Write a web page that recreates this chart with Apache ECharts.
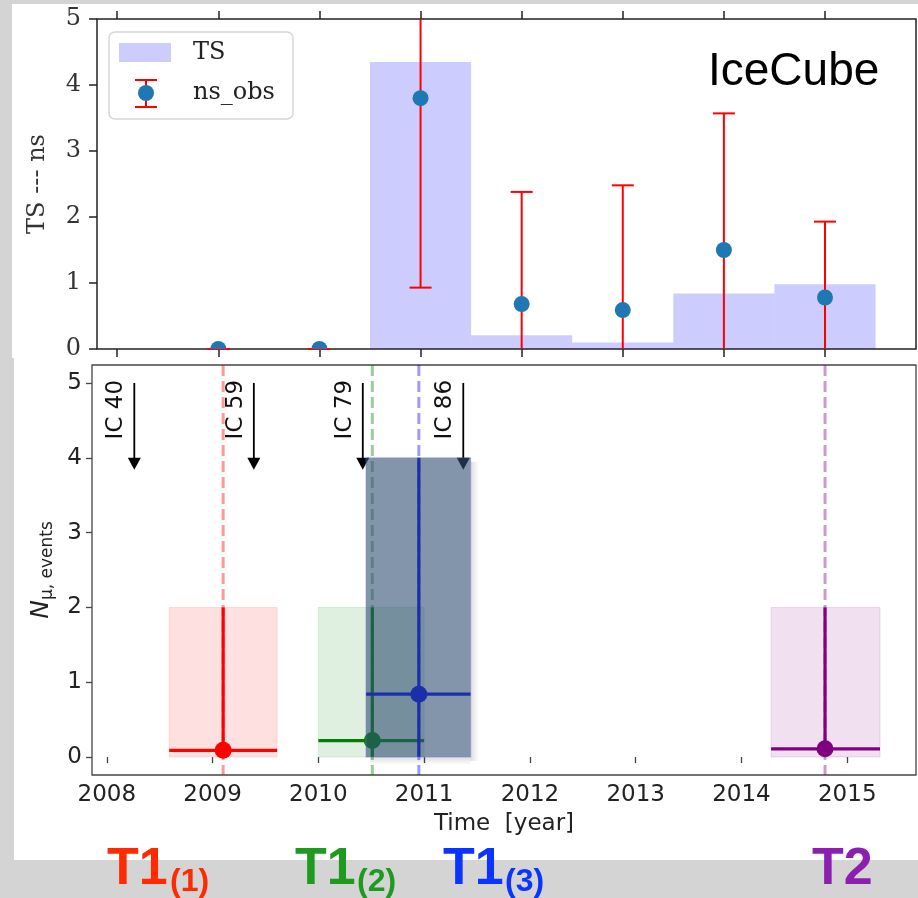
<!DOCTYPE html>
<html><head><meta charset="utf-8">
<script src="https://cdn.jsdelivr.net/npm/echarts@6/dist/echarts.min.js"></script>
<style>html,body{margin:0;padding:0;background:#d4d4d4}#c{width:918px;height:898px}</style>
</head><body><div id="c"></div>
<script>
// ---------------- Top panel (IceCube) data ----------------
const tsYears  = [2011, 2012, 2013, 2014, 2015];
const tsValues = [4.35, 0.21, 0.10, 0.84, 0.98];
const nsYears  = [2009, 2010, 2011, 2012, 2013, 2014, 2015];
const nsObs    = [0, 0, 3.80, 0.68, 0.59, 1.50, 0.78];
const nsLow    = [0, 0, 0.93, -1.02, -1.30, -0.57, -0.37];
const nsHigh   = [0, 0, 6.67, 2.38, 2.48, 3.57, 1.93];
const topXTicks = [2008, 2009, 2010, 2011, 2012, 2013, 2014, 2015];
const topYMin = 0, topYMax = 5;

// ---------------- Bottom panel data ----------------
const flareNames = ['T1(1)', 'T1(2)', 'T1(3)', 'T2'];
const flareTime  = [2009.10, 2010.51, 2010.95, 2014.79];
const flareStart = [2008.59, 2010.00, 2010.45, 2014.28];
const flareEnd   = [2009.61, 2011.00, 2011.44, 2015.31];
const flareN     = [0.09, 0.22, 0.84, 0.11];
const flareUpper = [2, 2, 4, 2];
const icNames = ['IC 40', 'IC 59', 'IC 79', 'IC 86'];
const icTime  = [2008.26, 2009.39, 2010.42, 2011.37];
const icFrom  = [5.0, 5.0, 5.0, 5.0];
const icTo    = [3.84, 3.84, 3.84, 3.84];
const botXTicks = [2008, 2009, 2010, 2011, 2012, 2013, 2014, 2015];
const botYTicks = [0, 1, 2, 3, 4, 5];
const botYMin = -0.24, botYMax = 5.24;

// styles
const flareColor = ['#ff0000', '#008000', '#0000ff', '#800080'];
const flareDash  = ['rgba(255,0,0,0.4)', 'rgba(0,128,0,0.4)', 'rgba(0,0,255,0.4)', 'rgba(128,0,128,0.4)'];
const flareFill  = ['rgba(255,0,0,0.12)', 'rgba(0,128,0,0.12)', 'rgba(47,79,115,0.6)', 'rgba(128,0,128,0.12)'];
const labelColor = ['#ff2a00', '#1e9b1e', '#0a34ff', '#8c1fb0'];

const chart = echarts.init(document.getElementById('c'), null, {renderer: 'canvas'});

const serif = 'DejaVu Serif';
const sans = 'DejaVu Sans';

function clampTop(v) { return Math.max(topYMin, Math.min(topYMax, v)); }

const option = {
  backgroundColor: '#d4d4d4',
  animation: false,
  grid: [
    {left: 97, top: 19, width: 819, height: 330, show: true, borderColor: '#222', borderWidth: 1.5, backgroundColor: '#fff'},
    {left: 92, top: 365, width: 824, height: 410, show: true, borderColor: '#444', borderWidth: 1.3, backgroundColor: '#fff'}
  ],
  xAxis: [
    {gridIndex: 0, type: 'value', min: 2007.8, max: 2015.9, position: 'bottom',
     axisLine: {show: false}, splitLine: {show: false},
     axisTick: {show: true, customValues: topXTicks, length: 8, lineStyle: {color: '#222', width: 1.5}},
     axisLabel: {show: false}},
    {gridIndex: 0, type: 'value', min: 2007.8, max: 2015.9, position: 'top',
     axisLine: {show: false}, splitLine: {show: false},
     axisTick: {show: true, customValues: topXTicks, length: 8, lineStyle: {color: '#222', width: 1.5}},
     axisLabel: {show: false}},
    {gridIndex: 1, type: 'value', min: 2007.86, max: 2015.65, position: 'bottom',
     axisLine: {show: false}, splitLine: {show: false},
     axisTick: {show: true, customValues: botXTicks, length: 6, lineStyle: {color: '#444', width: 1.3}},
     axisLabel: {customValues: botXTicks, formatter: v => String(Math.round(v)),
                 fontFamily: sans, fontSize: 23, lineHeight: 23, color: '#222', margin: 9},
     name: 'Time  [year]', nameLocation: 'middle', nameGap: 38,
     nameTextStyle: {fontFamily: sans, fontSize: 23, lineHeight: 23, color: '#222'}}
  ],
  yAxis: [
    {gridIndex: 0, type: 'value', min: topYMin, max: topYMax, interval: 1,
     axisLine: {show: false}, splitLine: {show: false},
     axisTick: {show: true, length: 8, lineStyle: {color: '#222', width: 1.5}},
     axisLabel: {fontFamily: serif, fontSize: 24, color: '#333', margin: 16},
     name: 'TS --- ns', nameLocation: 'middle', nameRotate: 90, nameGap: 47,
     nameTextStyle: {fontFamily: serif, fontSize: 24, color: '#333'}},
    {gridIndex: 1, type: 'value', min: botYMin, max: botYMax,
     axisLine: {show: false}, splitLine: {show: false},
     axisTick: {show: true, customValues: botYTicks, length: 6, lineStyle: {color: '#444', width: 1.3}},
     axisLabel: {customValues: botYTicks, formatter: v => String(Math.round(v)),
                 fontFamily: sans, fontSize: 23, color: '#222', margin: 10},
     name: '{n|N}{s|μ, events}', nameLocation: 'middle', nameRotate: 90, nameGap: 24,
     nameTextStyle: {color: '#222', rich: {
       n: {fontFamily: sans, fontStyle: 'italic', fontSize: 25, lineHeight: 24, verticalAlign: 'top', color: '#222'},
       s: {fontFamily: sans, fontSize: 17, lineHeight: 38, color: '#222'}
     }}}
  ],
  graphic: {elements: [
    {type: 'rect', z: -100, silent: true, shape: {x: 12, y: 4, width: 906, height: 354}, style: {fill: '#fff'}},
    {type: 'rect', z: -100, silent: true, shape: {x: 14, y: 358, width: 904, height: 502}, style: {fill: '#fff'}},
    // legend of top panel
    {type: 'rect', z: 100, shape: {x: 109, y: 32, width: 184, height: 87, r: 6}, style: {fill: 'rgba(255,255,255,0.85)', stroke: '#d6d6d6', lineWidth: 1.5}},
    {type: 'rect', z: 101, shape: {x: 119, y: 43, width: 52, height: 19}, style: {fill: 'rgba(0,0,255,0.2)'}},
    {type: 'text', z: 101, x: 193, y: 53, style: {text: 'TS', font: '24px "DejaVu Serif"', fill: '#222', verticalAlign: 'middle'}},
    {type: 'line', z: 101, shape: {x1: 146, y1: 80, x2: 146, y2: 107}, style: {stroke: '#ff0000', lineWidth: 2}},
    {type: 'line', z: 101, shape: {x1: 135, y1: 80, x2: 157, y2: 80}, style: {stroke: '#ff0000', lineWidth: 2}},
    {type: 'line', z: 101, shape: {x1: 135, y1: 107, x2: 157, y2: 107}, style: {stroke: '#ff0000', lineWidth: 2}},
    {type: 'circle', z: 102, shape: {cx: 146, cy: 93, r: 8}, style: {fill: '#1f77b4'}},
    {type: 'text', z: 101, x: 193, y: 93, style: {text: 'ns_obs', font: '24px "DejaVu Serif"', fill: '#222', verticalAlign: 'middle'}},
    {type: 'text', z: 101, x: 708, y: 72, style: {text: 'IceCube', font: '46px "Liberation Sans"', fill: '#000', verticalAlign: 'middle'}},
    // flare labels under the chart
    {type: 'text', z: 101, x: 107, y: 870, style: {text: 'T1', font: 'bold 52px "Liberation Sans"', fill: labelColor[0], verticalAlign: 'middle'}},
    {type: 'text', z: 101, x: 170, y: 882, style: {text: '(1)', font: 'bold 32px "Liberation Sans"', fill: labelColor[0], verticalAlign: 'middle'}},
    {type: 'text', z: 101, x: 295, y: 870, style: {text: 'T1', font: 'bold 52px "Liberation Sans"', fill: labelColor[1], verticalAlign: 'middle'}},
    {type: 'text', z: 101, x: 357, y: 882, style: {text: '(2)', font: 'bold 32px "Liberation Sans"', fill: labelColor[1], verticalAlign: 'middle'}},
    {type: 'text', z: 101, x: 443, y: 870, style: {text: 'T1', font: 'bold 52px "Liberation Sans"', fill: labelColor[2], verticalAlign: 'middle'}},
    {type: 'text', z: 101, x: 505, y: 882, style: {text: '(3)', font: 'bold 32px "Liberation Sans"', fill: labelColor[2], verticalAlign: 'middle'}},
    {type: 'text', z: 101, x: 812, y: 870, style: {text: 'T2', font: 'bold 52px "Liberation Sans"', fill: labelColor[3], verticalAlign: 'middle'}}
  ]},
  series: [
    // ---- top: TS histogram bars ----
    {type: 'custom', name: 'TS', xAxisIndex: 0, yAxisIndex: 0, z: 1,
     data: tsYears.map((y, i) => [y, tsValues[i]]),
     renderItem: (params, api) => {
       const x = api.value(0), v = api.value(1);
       const p0 = api.coord([x - 0.5, v]), p1 = api.coord([x + 0.5, 0]);
       return {type: 'rect', shape: {x: p0[0], y: p0[1], width: p1[0] - p0[0], height: p1[1] - p0[1]},
               style: {fill: 'rgba(0,0,255,0.2)'}};
     }},
    // ---- top: error bars ----
    {type: 'custom', xAxisIndex: 0, yAxisIndex: 0, z: 3,
     data: nsYears.map((y, i) => [y, nsLow[i], nsHigh[i]]),
     renderItem: (params, api) => {
       const x = api.value(0), lo = api.value(1), hi = api.value(2);
       const a = api.coord([x, clampTop(lo)]), b = api.coord([x, clampTop(hi)]);
       const st = {stroke: '#ff0000', lineWidth: 2};
       const ch = [{type: 'line', shape: {x1: a[0], y1: a[1], x2: b[0], y2: b[1]}, style: st}];
       if (lo >= topYMin) ch.push({type: 'line', shape: {x1: a[0] - 11, y1: a[1], x2: a[0] + 11, y2: a[1]}, style: st});
       if (hi <= topYMax) ch.push({type: 'line', shape: {x1: b[0] - 11, y1: b[1], x2: b[0] + 11, y2: b[1]}, style: st});
       const cs = params.coordSys;
       return {type: 'group', children: ch, clipPath: {type: 'rect', shape: {x: cs.x, y: cs.y - 1, width: cs.width, height: cs.height + 2}}};
     }},
    // ---- top: ns_obs points ----
    {type: 'custom', name: 'ns_obs', xAxisIndex: 0, yAxisIndex: 0, z: 4,
     data: nsYears.map((y, i) => [y, nsObs[i]]),
     renderItem: (params, api) => {
       const p = api.coord([api.value(0), api.value(1)]);
       const cs = params.coordSys;
       return {type: 'circle', shape: {cx: p[0], cy: p[1], r: 8}, style: {fill: '#1f77b4'},
               clipPath: {type: 'rect', shape: {x: cs.x, y: cs.y, width: cs.width, height: cs.height}}};
     }},
    // ---- bottom: light flare boxes ----
    {type: 'custom', xAxisIndex: 2, yAxisIndex: 1, z: 1,
     data: flareTime.map((t, i) => [flareStart[i], flareEnd[i], flareUpper[i]]),
     renderItem: (params, api) => {
       const i = params.dataIndex;
       if (i === 2) return null;
       const p0 = api.coord([api.value(0), api.value(2)]), p1 = api.coord([api.value(1), 0]);
       return {type: 'rect', shape: {x: p0[0], y: p0[1], width: p1[0] - p0[0], height: p1[1] - p0[1]},
               style: {fill: flareFill[i], stroke: flareFill[i], lineWidth: 1}};
     }},
    // ---- bottom: dashed flare time lines ----
    {type: 'custom', xAxisIndex: 2, yAxisIndex: 1, z: 2,
     data: flareTime.map(t => [t]),
     renderItem: (params, api) => {
       const i = params.dataIndex;
       const a = api.coord([api.value(0), botYMax]), b = api.coord([api.value(0), botYMin]);
       return {type: 'line', shape: {x1: a[0], y1: a[1], x2: b[0], y2: b[1]},
               style: {stroke: flareDash[i], lineWidth: 3, lineDash: [11, 5]}};
     }},
    // ---- bottom: error bars ----
    {type: 'custom', xAxisIndex: 2, yAxisIndex: 1, z: 3,
     data: flareTime.map((t, i) => [t, flareN[i], flareStart[i], flareEnd[i], flareUpper[i]]),
     renderItem: (params, api) => {
       const i = params.dataIndex;
       const t = api.value(0), n = api.value(1);
       const h0 = api.coord([api.value(2), n]), h1 = api.coord([api.value(3), n]);
       const v0 = api.coord([t, 0]), v1 = api.coord([t, api.value(4)]);
       const st = {stroke: flareColor[i], lineWidth: 3.2};
       return {type: 'group', children: [
         {type: 'line', shape: {x1: h0[0], y1: h0[1], x2: h1[0], y2: h1[1]}, style: st},
         {type: 'line', shape: {x1: v0[0], y1: v0[1], x2: v1[0], y2: v1[1]}, style: st}
       ]};
     }},
    // ---- bottom: points ----
    {type: 'scatter', xAxisIndex: 2, yAxisIndex: 1, z: 4, symbolSize: 17,
     data: flareTime.map((t, i) => ({name: flareNames[i], value: [t, flareN[i]], itemStyle: {color: flareColor[i], opacity: 1}}))},
    // ---- bottom: IceCube configuration arrows ----
    {type: 'custom', xAxisIndex: 2, yAxisIndex: 1, z: 5,
     data: icTime.map((t, i) => [t, icFrom[i], icTo[i]]),
     renderItem: (params, api) => {
       const i = params.dataIndex;
       const a = api.coord([api.value(0), api.value(1)]), b = api.coord([api.value(0), api.value(2)]);
       return {type: 'group', children: [
         {type: 'line', shape: {x1: a[0], y1: a[1], x2: b[0], y2: b[1] - 11}, style: {stroke: '#000', lineWidth: 1.8}},
         {type: 'polygon', shape: {points: [[b[0] - 6.5, b[1] - 12], [b[0] + 6.5, b[1] - 12], [b[0], b[1]]]}, style: {fill: '#000'}},
         {type: 'text', x: a[0] - 18, y: a[1] - 3, rotation: Math.PI / 2,
          style: {text: icNames[i], font: '23px "DejaVu Sans"', fill: '#111', align: 'right', verticalAlign: 'middle'}}
       ]};
     }},
    // ---- bottom: T1(3) dark box on top, with a soft shadow ----
    {type: 'custom', xAxisIndex: 2, yAxisIndex: 1, z: 6,
     data: flareTime.map((t, i) => [flareStart[i], flareEnd[i], flareUpper[i]]),
     renderItem: (params, api) => {
       const i = params.dataIndex;
       if (i !== 2) return null;
       const p0 = api.coord([api.value(0), api.value(2)]), p1 = api.coord([api.value(1), 0]);
       const w = p1[0] - p0[0], h = p1[1] - p0[1];
       const sh = 8;
       return {type: 'group', children: [
         {type: 'rect', shape: {x: p1[0], y: p0[1] + 4, width: sh, height: h},
          style: {fill: {type: 'linear', x: 0, y: 0, x2: 1, y2: 0, colorStops: [{offset: 0, color: 'rgba(0,0,0,0.13)'}, {offset: 1, color: 'rgba(0,0,0,0)'}]}}},
         {type: 'rect', shape: {x: p0[0] + 4, y: p1[1], width: w - 4, height: sh},
          style: {fill: {type: 'linear', x: 0, y: 0, x2: 0, y2: 1, colorStops: [{offset: 0, color: 'rgba(0,0,0,0.13)'}, {offset: 1, color: 'rgba(0,0,0,0)'}]}}},
         {type: 'rect', shape: {x: p0[0], y: p0[1], width: w, height: h},
          style: {fill: flareFill[i], stroke: 'rgba(120,120,230,0.35)', lineWidth: 1.2}}
       ]};
     }}
  ]
};
chart.setOption(option);
</script>
</body></html>
